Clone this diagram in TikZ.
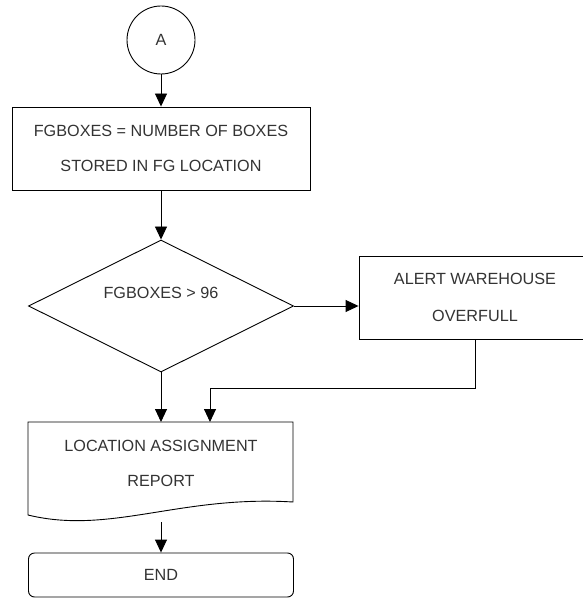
\documentclass[tikz,border=0pt]{standalone}
\usepackage{fontspec}
\setmainfont{Liberation Sans}
\usetikzlibrary{shapes.geometric,arrows.meta}

\begin{document}
\begin{tikzpicture}[x=1pt,y=-1pt,>={Triangle[length=13pt,width=12pt]},
  every node/.style={font=\fontsize{16.2}{35}\selectfont, text=black!80},
  box/.style={draw, line width=0.9pt, align=center, inner sep=0pt},
  conn/.style={draw, circle, line width=0.9pt, minimum size=68pt},
  decision/.style={draw, diamond, line width=0.9pt, minimum width=265pt, minimum height=132pt, inner sep=0pt},
  flow/.style={->, line width=0.9pt}]

\useasboundingbox (0,0) rectangle (582,599);

% ----- connector and first step -----
\node[conn] (A) at (161,40) {A};
\node[box, minimum width=298pt, minimum height=83pt] (fg) at (161,148.5)
  {FGBOXES = NUMBER OF BOXES\\STORED IN FG LOCATION};

% ----- test -----
\node[decision] (chk) at (161,306) {};
\node (chktxt) at ([yshift=13pt]chk.center) {FGBOXES > 96};

\node[box, minimum width=232pt, minimum height=83pt] (alert) at (475,297.5)
  {ALERT WAREHOUSE\\[2pt]OVERFULL};

% ----- report (document shape) -----
\draw[line width=0.9pt] (28,422) -- (293,422) -- (293,502)
  .. controls (180,495) and (110,535) .. (28,515) -- cycle;
\node[align=center] (rep) at (161,463) {LOCATION ASSIGNMENT\\REPORT};
\coordinate (rep-n) at (161,422);
\coordinate (rep-s) at (161,522);

\node[box, rounded corners=6pt, minimum width=265pt, minimum height=44pt] (end) at (161,575) {END};

% ----- arrows -----
\draw[flow] (A) -- (fg);
\draw[flow] (fg) -- (chk);
\draw[flow] (chk.east) -- (chk.east -| alert.west);
\draw[flow] (chk.south) -- (rep-n);
\coordinate (j) at (210,388);
\draw[flow] (alert.south) |- (j) -- (j |- rep-n);
\draw[flow] (rep-s) -- (end);

\end{tikzpicture}
\end{document}
